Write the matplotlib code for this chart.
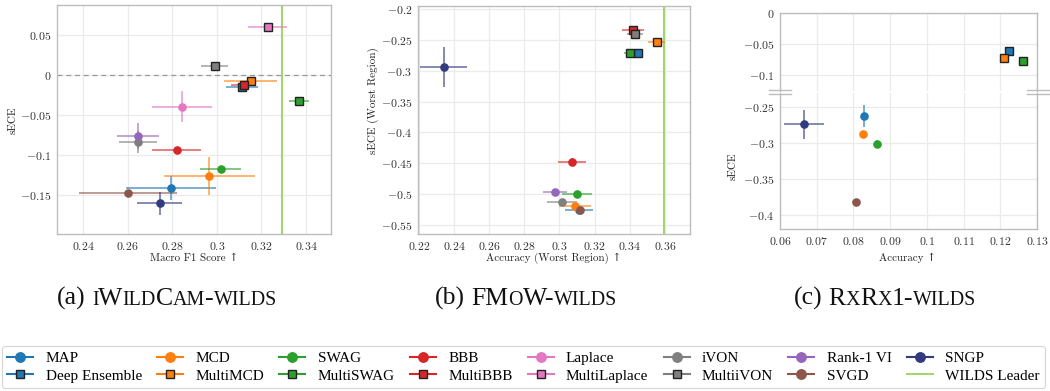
import numpy as np
import matplotlib
matplotlib.use("Agg")
import matplotlib.pyplot as plt
from matplotlib.lines import Line2D
from matplotlib.ticker import FuncFormatter, FixedLocator

plt.rcParams['font.family'] = 'serif'
plt.rcParams['font.serif'] = ['cmr10', 'DejaVu Serif']
plt.rcParams['mathtext.fontset'] = 'cm'
plt.rcParams['axes.formatter.use_mathtext'] = True

nan = np.nan
methods = ["MAP", "Deep Ensemble", "MCD", "MultiMCD", "SWAG", "MultiSWAG", "BBB", "MultiBBB",
           "Laplace", "MultiLaplace", "iVON", "MultiiVON", "Rank-1 VI", "SVGD", "SNGP"]
colors = ["#1f77b4", "#1f77b4", "#ff7f0e", "#ff7f0e", "#2ca02c", "#2ca02c", "#d62728", "#d62728",
          "#e377c2", "#e377c2", "#7f7f7f", "#7f7f7f", "#9467bd", "#8c564b", "#323a80"]
is_multi = [False, True, False, True, False, True, False, True,
            False, True, False, True, False, False, False]
leader_color = "#a2d66c"

# (a) iWildCam
iw_x = [0.2796, 0.3113, 0.2966, 0.3152, 0.3017, 0.3367, 0.2821, 0.3120,
        0.2845, 0.3228, 0.2646, 0.2991, 0.2646, 0.2601, 0.2743]
iw_y = [-0.1413, -0.0154, -0.1263, -0.0079, -0.1175, -0.0325, -0.0938, -0.0120,
        -0.0400, 0.0596, -0.0842, 0.0113, -0.0767, -0.1471, -0.1608]
iw_xerr = [0.0202, 0.0071, 0.0205, 0.0118, 0.0091, 0.0045, 0.0110, 0.0055,
           0.0135, 0.0088, 0.0087, 0.0060, 0.0094, 0.0220, 0.0101]
iw_yerr = [0.0146, 0.0020, 0.0240, 0.0040, 0.0040, 0.0020, 0.0020, 0.0020,
           0.0195, 0.0020, 0.0140, 0.0020, 0.0160, 0.0020, 0.0140]
iw_leader = 0.3292

# (b) FMoW
fm_x = [0.3110, 0.3449, 0.3088, 0.3553, 0.3101, 0.3404, 0.3070, 0.3418,
        nan, nan, 0.3016, 0.3430, 0.2976, 0.3118, 0.2341]
fm_y = [-0.5250, -0.2707, -0.5199, -0.2539, -0.4994, -0.2707, -0.4476, -0.2334,
        nan, nan, -0.5134, -0.2410, -0.4967, -0.5253, -0.2939]
fm_xerr = [0.0080, 0.0020, 0.0093, 0.0050, 0.0085, 0.0036, 0.0079, 0.0063,
           nan, nan, 0.0085, 0.0045, 0.0068, 0.0015, 0.0135]
fm_yerr = [0.0040, 0.0020, 0.0060, 0.0020, 0.0030, 0.0020, 0.0060, 0.0020,
           nan, nan, 0.0030, 0.0020, 0.0030, 0.0030, 0.0320]
fm_leader = 0.3597

# (c) RxRx1
rx_x = [0.0828, 0.1224, 0.0826, 0.1210, 0.0863, 0.1261, nan, nan,
        nan, nan, nan, nan, nan, 0.0806, 0.0665]
rx_y = [-0.2616, -0.0604, -0.2876, -0.0722, -0.3005, -0.0775, nan, nan,
        nan, nan, nan, nan, nan, -0.3815, -0.2736]
rx_xerr = [0.0003, 0.0003, 0.0003, 0.0003, 0.0003, 0.0003, nan, nan,
           nan, nan, nan, nan, nan, 0.0010, 0.0054]
rx_yerr = [0.0155, 0.0010, 0.0030, 0.0010, 0.0050, 0.0010, nan, nan,
           nan, nan, nan, nan, nan, 0.0020, 0.0200]

W, H = 1050, 391
fig = plt.figure(figsize=(W / 100, H / 100), dpi=100)

SPINE = "#bdbdbd"
GRID = "#ebebeb"
TICKFS = 8.5
XLABFS = 7.9
YLABFS = 8.0


def fmt(v, pos):
    if abs(v) < 1e-12:
        return r"$0$"
    return r"$%s$" % ("%g" % v)


def style_axes(ax):
    ax.set_facecolor("white")
    for sp in ax.spines.values():
        sp.set_color(SPINE)
        sp.set_linewidth(1.0)
    ax.grid(True, color=GRID, linewidth=0.9, zorder=0)
    ax.set_axisbelow(True)
    ax.tick_params(length=0, pad=4, labelsize=TICKFS, colors="#333333")
    ax.xaxis.set_major_formatter(FuncFormatter(fmt))
    ax.yaxis.set_major_formatter(FuncFormatter(fmt))


def draw_points(ax, xs, ys, xe, ye):
    for i in range(len(methods)):
        if np.isnan(xs[i]):
            continue
        c = colors[i]
        z = 4 if is_multi[i] else 3
        ax.errorbar(xs[i], ys[i], xerr=xe[i], yerr=ye[i], fmt="none", ecolor=c,
                    elinewidth=1.1, alpha=0.75, capsize=0, zorder=z)
        if is_multi[i]:
            ax.plot(xs[i], ys[i], marker="s", ms=5.7, mfc=c, mec="#222222", mew=1.0,
                    ls="none", zorder=z + 0.5)
        else:
            ax.plot(xs[i], ys[i], marker="o", ms=6.2, mfc=c, mec=c, mew=0.0,
                    ls="none", zorder=z + 0.5)


def xlabel(x_px, base_px, s):
    fig.text(x_px / W, 1 - base_px / H, s, fontsize=XLABFS, ha="center", va="baseline",
             color="#222222", family=["cmr10", "DejaVu Serif"])


def ylabel(x_px, y_px, s):
    fig.text(x_px / W, 1 - y_px / H, s, rotation=90, fontsize=YLABFS,
             ha="center", va="center", color="#222222")


# Panel (a)
ax1 = fig.add_axes([57 / W, 1 - 234 / H, 274 / W, 229 / H])
style_axes(ax1)
ax1.axhline(0, color="#999999", ls=(0, (4, 3)), lw=0.9, zorder=1)
ax1.axvline(iw_leader, color=leader_color, lw=1.5, zorder=2)
draw_points(ax1, iw_x, iw_y, iw_xerr, iw_yerr)
ax1.set_xlim(0.2283, 0.3512)
ax1.set_ylim(-0.199, 0.0875)
ax1.xaxis.set_major_locator(FixedLocator([0.24, 0.26, 0.28, 0.30, 0.32, 0.34]))
ax1.yaxis.set_major_locator(FixedLocator([-0.15, -0.1, -0.05, 0.0, 0.05]))
xlabel(194, 261, "Macro F1 Score \u2191")
ylabel(13, 120, "sECE")

# Panel (b)
ax2 = fig.add_axes([417.7 / W, 1 - 234 / H, 272.3 / W, 228.3 / H])
style_axes(ax2)
ax2.axvline(fm_leader, color=leader_color, lw=1.5, zorder=2)
draw_points(ax2, fm_x, fm_y, fm_xerr, fm_yerr)
ax2.set_xlim(0.2194, 0.3743)
ax2.set_ylim(-0.5646, -0.1946)
ax2.xaxis.set_major_locator(FixedLocator([0.22, 0.24, 0.26, 0.28, 0.30, 0.32, 0.34, 0.36]))
ax2.yaxis.set_major_locator(FixedLocator([-0.55, -0.5, -0.45, -0.4, -0.35, -0.3, -0.25, -0.2]))
xlabel(554, 261, "Accuracy (Worst Region) \u2191")
ylabel(373, 101, "sECE (Worst Region)")

# Panel (c) with broken y axis
top_px, brk_hi, brk_lo, bot_px = 13.3, 91.0, 93.0, 229.0
ax3u = fig.add_axes([780 / W, 1 - brk_hi / H, 257 / W, (brk_hi - top_px) / H])
ax3l = fig.add_axes([780 / W, 1 - bot_px / H, 257 / W, (bot_px - brk_lo) / H], sharex=ax3u)
for a in (ax3u, ax3l):
    style_axes(a)
    draw_points(a, rx_x, rx_y, rx_xerr, rx_yerr)
ax3u.set_ylim(-0.1255, 0.0)
ax3l.set_ylim(-0.419, -0.2300)
ax3u.set_xlim(0.06, 0.13)
ax3u.yaxis.set_major_locator(FixedLocator([-0.1, -0.05, 0.0]))
ax3l.yaxis.set_major_locator(FixedLocator([-0.4, -0.35, -0.3, -0.25]))
ax3u.xaxis.set_major_locator(FixedLocator([0.06, 0.07, 0.08, 0.09, 0.10, 0.11, 0.12, 0.13]))
ax3u.spines["bottom"].set_visible(False)
ax3l.spines["top"].set_visible(False)
ax3u.tick_params(labelbottom=False)
xlabel(908, 261, "Accuracy \u2191")
ylabel(733, 166, "sECE")
for yb in (90.0, 94.3):
    for x0, x1 in ((769, 791), (1027, 1050)):
        fig.add_artist(Line2D([x0 / W, x1 / W], [1 - yb / H, 1 - yb / H],
                              color=SPINE, lw=1.0, transform=fig.transFigure))

# Captions with small caps
CAPFS = 18.5
renderer = fig.canvas.get_renderer()


def smallcaps(xc_px, base_px, label, name):
    segs = [(label, False), (" ", None)]
    cur, cur_small = "", None
    for ch in name:
        small = ch.islower()
        c2 = ch.upper() if small else ch
        if cur_small is None or small == cur_small:
            cur += c2
            cur_small = small
        else:
            segs.append((cur, cur_small))
            cur, cur_small = c2, small
    segs.append((cur, cur_small))
    items = []
    for s, small in segs:
        if small is None:
            items.append((None, CAPFS * 0.25 * 100 / 72))
            continue
        t = fig.text(0, 1 - base_px / H, s, fontsize=CAPFS * (0.78 if small else 1.0),
                     family="Liberation Serif", va="baseline", ha="left", color="#111111")
        w = t.get_window_extent(renderer).width
        items.append((t, w))
    total = sum(w for _, w in items)
    x = xc_px - total / 2
    for t, w in items:
        if t is not None:
            t.set_x(x / W)
        x += w


smallcaps(167, 305, "(a)", "iWildCam-wilds")
smallcaps(526, 305, "(b)", "FMoW-wilds")
smallcaps(885, 305, "(c)", "RxRx1-wilds")

# Legend
handles = []
for i, m in enumerate(methods):
    if is_multi[i]:
        h = Line2D([], [], color=colors[i], lw=1.5, marker="s", ms=6.0, mfc=colors[i],
                   mec="#222222", mew=1.0)
    else:
        h = Line2D([], [], color=colors[i], lw=1.5, marker="o", ms=6.8, mfc=colors[i],
                   mec=colors[i])
    handles.append(h)
handles.append(Line2D([], [], color=leader_color, lw=1.5))
labels = methods + ["WILDS Leader"]
leg = fig.legend(handles, labels, ncol=8, loc="lower center", bbox_to_anchor=(0.4985, -0.012),
                 prop={"family": "Liberation Serif", "size": 11}, frameon=True,
                 handlelength=1.7, handletextpad=0.8, columnspacing=1.0,
                 labelspacing=0.25, borderpad=0.35, fancybox=True)
leg.get_frame().set_edgecolor("#cccccc")
leg.get_frame().set_linewidth(0.8)

fig.savefig("out.png", dpi=100)
